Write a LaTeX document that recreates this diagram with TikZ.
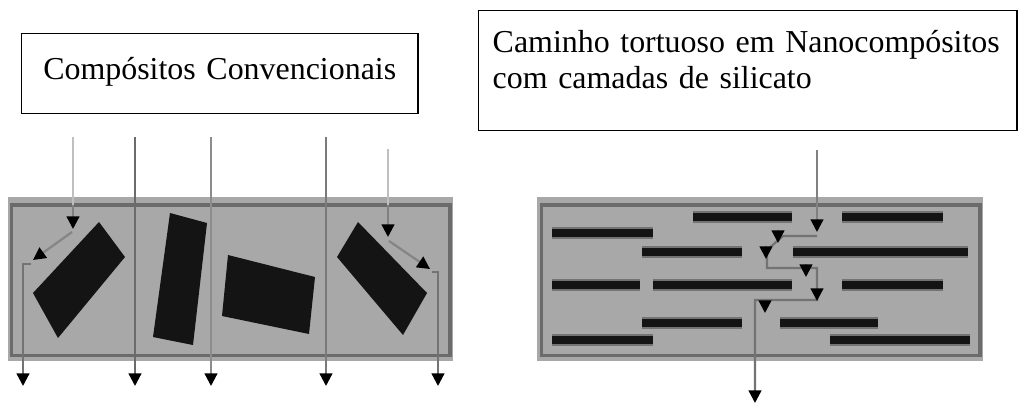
\documentclass[tikz,border=0pt]{standalone}
\usepackage{fontspec}
\setmainfont{Liberation Serif}
\usetikzlibrary{arrows.meta}

\begin{document}
\begin{tikzpicture}[x=0.025cm,y=-0.025cm,
  caixa/.style={draw=black,line width=1pt,fill=white,anchor=north west,inner ysep=0pt,font=\fontsize{22.7}{25.6}\selectfont},
  matriz/.style={draw=black!58,line width=2.5pt},
  fluxo/.style={line width=1.6pt,-{Triangle[width=9pt,length=9pt,color=black]}},
  entrada/.style={line width=1.6pt,black!25},
  particula/.style={fill=black!92},
  lamela/.style={draw=black!92,line width=5pt,preaction={draw=black!55,line width=8.5pt}}]
\useasboundingbox (0,0) rectangle (1020,408);

% caixas de texto
\node[caixa,align=center,text width=9.5cm,inner xsep=0.2cm,text height=1.15cm,text depth=0.85cm] (conv) at (21,33) {Compósitos Convencionais};
\node[caixa,align=left,text width=12.75cm,inner xsep=0.35cm,text height=1.05cm,text depth=1.95cm] (nano) at (478,10) {Caminho tortuoso em Nanocompósitos\\com camadas de silicato};

% compositos convencionais
\fill[black!34] (8,197) rectangle (453,361);
\draw[matriz] (11.5,205) rectangle (450,355.5);
\fill[particula] (99,222) -- (125,257) -- (58,338) -- (33,293) -- cycle;
\fill[particula] (170,213) -- (207,223) -- (193,345) -- (153,337) -- cycle;
\fill[particula] (228,255) -- (315,277) -- (309,334) -- (222,316) -- cycle;
\fill[particula] (358,222) -- (427,293) -- (403,335) -- (337,257) -- cycle;

\draw[entrada] (73,137) -- (73,205);
\draw[fluxo,black!50] (73,205) -- (73,229);
\draw[fluxo,black!48] (72,232) -- (33,260);
\draw[fluxo,black!55] (31,264) -- (23,264) -- (23,386);
\draw[fluxo,black!58] (135,137) -- (135,386);
\draw[fluxo,black!45] (211,137) -- (211,386);
\draw[fluxo,black!52] (326,137) -- (326,386);
\draw[entrada] (388,149) -- (388,205);
\draw[fluxo,black!50] (388,205) -- (388,237);
\draw[fluxo,black!48] (389,241) -- (430,269);
\draw[fluxo,black!55] (432,272) -- (438,272) -- (438,386);

% nanocompositos
\fill[black!34] (537,197) rectangle (983,361);
\draw[matriz] (541.5,205) rectangle (980,355.5);
\draw[lamela] (693,217) -- (792,217);
\draw[lamela] (842,217) -- (943,217);
\draw[lamela] (552,233) -- (653,233);
\draw[lamela] (642,252) -- (742,252);
\draw[lamela] (793,252) -- (968,252);
\draw[lamela] (552,285) -- (640,285);
\draw[lamela] (653,285) -- (792,285);
\draw[lamela] (842,285) -- (943,285);
\draw[lamela] (642,323) -- (742,323);
\draw[lamela] (780,323) -- (878,323);
\draw[lamela] (552,340) -- (653,340);
\draw[lamela] (830,340) -- (970,340);

% caminho tortuoso
\draw[fluxo,black!50] (817,150) -- (817,232);
\draw[fluxo,black!55] (817,236) -- (783,236) -- (767,250) -- (767,268) -- (817,268) -- (817,300) -- (755,300) -- (755,403);
\draw[fluxo,black!55] (778,230) -- (778,243);
\draw[fluxo,black!55] (766,246) -- (766,259);
\draw[fluxo,black!55] (806,264) -- (806,277);
\draw[fluxo,black!55] (817,288) -- (817,301);
\draw[fluxo,black!55] (765,300) -- (765,313);
\end{tikzpicture}
\end{document}
